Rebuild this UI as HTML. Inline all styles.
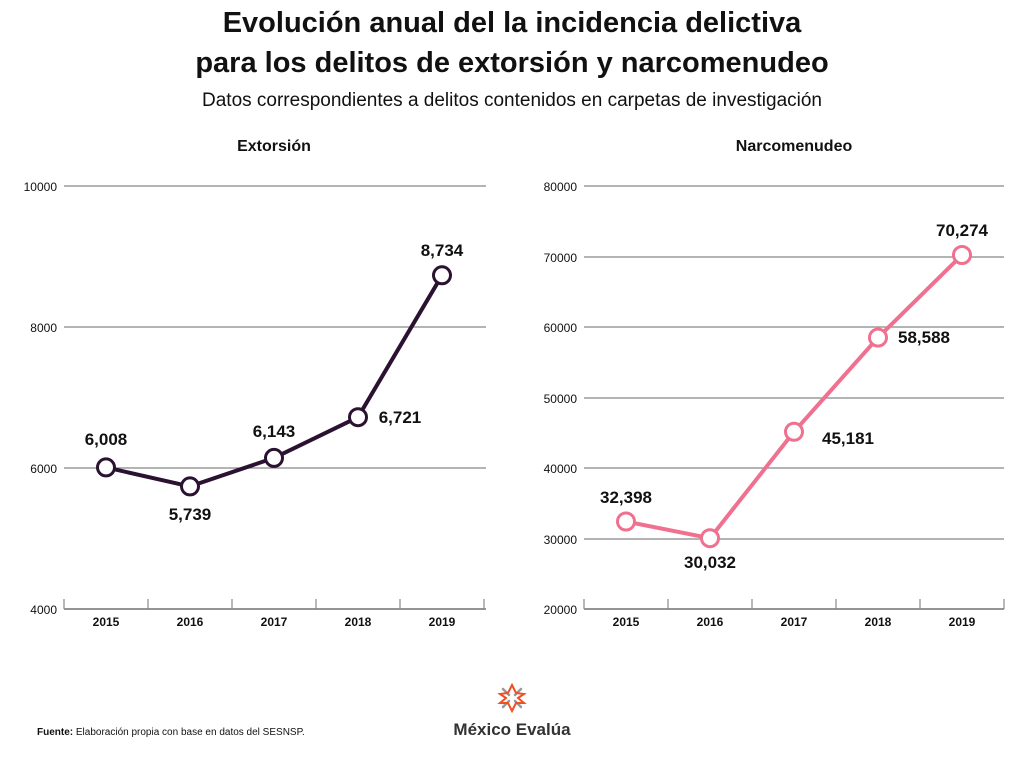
<!DOCTYPE html>
<html><head><meta charset="utf-8"><style>
body{margin:0;background:#fff;width:1024px;height:758px;overflow:hidden;font-family:"Liberation Sans",sans-serif}
</style></head><body>
<svg width="1024" height="758" xmlns="http://www.w3.org/2000/svg" font-family="Liberation Sans, sans-serif">
<text x="512" y="32" text-anchor="middle" font-size="29" font-weight="bold" fill="#111">Evolución anual del la incidencia delictiva</text>
<text x="512" y="72" text-anchor="middle" font-size="29" font-weight="bold" fill="#111">para los delitos de extorsión y narcomenudeo</text>
<text x="512" y="106" text-anchor="middle" font-size="19" fill="#111">Datos correspondientes a delitos contenidos en carpetas de investigación</text>
<text x="274" y="151" text-anchor="middle" font-size="16" font-weight="bold" fill="#111">Extorsión</text>
<text x="794" y="151" text-anchor="middle" font-size="16" font-weight="bold" fill="#111">Narcomenudeo</text>
<g stroke="#888" stroke-width="1.2">
<line x1="64" x2="486" y1="186" y2="186"/><line x1="64" x2="486" y1="327" y2="327"/><line x1="64" x2="486" y1="468" y2="468"/>
<line x1="64" x2="486" y1="609" y2="609" stroke="#555"/>
<line x1="64" y1="599" x2="64" y2="609"/><line x1="148" y1="599" x2="148" y2="609"/><line x1="232" y1="599" x2="232" y2="609"/><line x1="316" y1="599" x2="316" y2="609"/><line x1="400" y1="599" x2="400" y2="609"/><line x1="484" y1="599" x2="484" y2="609"/>
<line x1="584" x2="1004" y1="186" y2="186"/><line x1="584" x2="1004" y1="257" y2="257"/><line x1="584" x2="1004" y1="327" y2="327"/><line x1="584" x2="1004" y1="398" y2="398"/><line x1="584" x2="1004" y1="468" y2="468"/><line x1="584" x2="1004" y1="539" y2="539"/>
<line x1="584" x2="1004" y1="609" y2="609" stroke="#555"/>
<line x1="584" y1="599" x2="584" y2="609"/><line x1="668" y1="599" x2="668" y2="609"/><line x1="752" y1="599" x2="752" y2="609"/><line x1="836" y1="599" x2="836" y2="609"/><line x1="920" y1="599" x2="920" y2="609"/><line x1="1004" y1="599" x2="1004" y2="609"/>
</g>
<g font-size="12" fill="#111" text-anchor="end">
<text x="57" y="191">10000</text><text x="57" y="332">8000</text><text x="57" y="473">6000</text><text x="57" y="614">4000</text>
<text x="577" y="191">80000</text><text x="577" y="262">70000</text><text x="577" y="332">60000</text><text x="577" y="403">50000</text><text x="577" y="473">40000</text><text x="577" y="544">30000</text><text x="577" y="614">20000</text>
</g>
<g font-size="12" font-weight="bold" fill="#111" text-anchor="middle">
<text x="106" y="626">2015</text><text x="190" y="626">2016</text><text x="274" y="626">2017</text><text x="358" y="626">2018</text><text x="442" y="626">2019</text>
<text x="626" y="626">2015</text><text x="710" y="626">2016</text><text x="794" y="626">2017</text><text x="878" y="626">2018</text><text x="962" y="626">2019</text>
</g>
<polyline points="106,467.4 190,486.4 274,457.9 358,417.2 442,275.3" fill="none" stroke="#2a1230" stroke-width="4" stroke-linejoin="round"/>
<g fill="#fff" stroke="#2a1230" stroke-width="3">
<circle cx="106" cy="467.4" r="8.5"/><circle cx="190" cy="486.4" r="8.5"/><circle cx="274" cy="457.9" r="8.5"/><circle cx="358" cy="417.2" r="8.5"/><circle cx="442" cy="275.3" r="8.5"/>
</g>
<polyline points="626,521.5 710,538.2 794,431.8 878,337.6 962,255" fill="none" stroke="#f0708f" stroke-width="4" stroke-linejoin="round"/>
<g fill="#fff" stroke="#f0708f" stroke-width="3">
<circle cx="626" cy="521.5" r="8.5"/><circle cx="710" cy="538.2" r="8.5"/><circle cx="794" cy="431.8" r="8.5"/><circle cx="878" cy="337.6" r="8.5"/><circle cx="962" cy="255" r="8.5"/>
</g>
<g font-size="17" font-weight="bold" fill="#111" text-anchor="middle">
<text x="106" y="445">6,008</text><text x="190" y="520">5,739</text><text x="274" y="437">6,143</text><text x="400" y="423">6,721</text><text x="442" y="256">8,734</text>
<text x="626" y="503">32,398</text><text x="710" y="568">30,032</text><text x="848" y="444">45,181</text><text x="924" y="343">58,588</text><text x="962" y="236">70,274</text>
</g>
<g transform="translate(512,698)" stroke-width="2.5" stroke-linecap="round">
<g stroke="#999"><line x1="-9" y1="-9" x2="-3" y2="-3"/><line x1="9" y1="-9" x2="3" y2="-3"/><line x1="-9" y1="9" x2="-3" y2="3"/><line x1="9" y1="9" x2="3" y2="3"/></g>
<polygon points="0,-13 4,-5 12,-4 6,0 12,5 4,5 0,13 -4,5 -12,5 -6,0 -12,-4 -4,-5" fill="none" stroke="#f04e23" stroke-width="2"/>
</g>
<text x="512" y="735" text-anchor="middle" font-size="17" font-weight="bold" fill="#333">México Evalúa</text>
<text x="37" y="735" font-size="10" fill="#111"><tspan font-weight="bold">Fuente:</tspan> Elaboración propia con base en datos del SESNSP.</text>
</svg>
</body></html>
